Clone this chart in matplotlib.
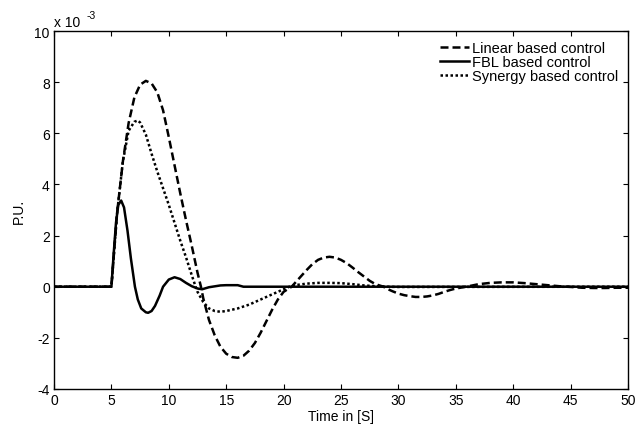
import matplotlib
matplotlib.use("Agg")
import matplotlib.pyplot as plt

plt.rcParams['font.family'] = ['Liberation Sans', 'DejaVu Sans']
plt.rcParams['axes.unicode_minus'] = False

# values in units of 1e-3 P.U.
t_lin = [0, 5.0, 5.5, 6.0, 6.5, 7.0, 7.5, 8.0, 8.5, 9.0, 9.5, 10.0, 10.5, 11.0, 11.5, 12.0,
         12.5, 12.8, 13.0, 13.5, 14.0, 14.5, 15.0, 15.5, 16.0, 16.5, 17.0, 17.5, 18.0, 18.5,
         19.0, 19.5, 20.0, 20.7, 21.0, 21.5, 22.0, 22.5, 23.0, 23.5, 24.0, 24.5, 25.0, 25.5,
         26.0, 26.5, 27.0, 27.5, 28.0, 28.7, 29.0, 29.5, 30.0, 30.5, 31.0, 31.5, 32.0, 32.5,
         33.0, 33.5, 34.0, 34.5, 35.0, 35.9, 37.0, 38.0, 39.0, 40.0, 41.0, 42.0, 43.0, 44.0,
         44.7, 46.0, 47.0, 48.0, 49.0, 50.0]
y_lin = [0, 0, 2.9, 4.9, 6.4, 7.4, 7.9, 8.05, 7.95, 7.6, 6.9, 5.85, 4.75, 3.65, 2.6, 1.6,
         0.55, 0.0, -0.45, -1.3, -1.9, -2.35, -2.62, -2.75, -2.78, -2.7, -2.5, -2.2, -1.8, -1.35,
         -0.9, -0.5, -0.2, 0.0, 0.15, 0.4, 0.65, 0.88, 1.05, 1.14, 1.17, 1.14, 1.05, 0.92,
         0.75, 0.57, 0.4, 0.23, 0.1, 0.0, -0.08, -0.18, -0.27, -0.33, -0.37, -0.4, -0.4, -0.38,
         -0.34, -0.28, -0.2, -0.13, -0.07, 0.0, 0.1, 0.15, 0.17, 0.17, 0.14, 0.1, 0.06, 0.02,
         0.0, -0.04, -0.05, -0.05, -0.04, -0.04]

t_fbl = [0, 5.0, 5.2, 5.4, 5.6, 5.85, 6.1, 6.4, 6.7, 7.05, 7.3, 7.6, 8.0, 8.2, 8.5, 8.8,
         9.2, 9.5, 10.0, 10.5, 11.0, 11.5, 12.0, 12.5, 12.9, 13.5, 14.5, 15.0, 16.0, 16.5, 50.0]
y_fbl = [0, 0, 1.3, 2.5, 3.2, 3.37, 3.1, 2.2, 1.1, 0.0, -0.5, -0.85, -1.0, -1.02, -0.95, -0.75,
         -0.35, 0.0, 0.28, 0.37, 0.3, 0.15, 0.02, -0.07, -0.1, -0.02, 0.05, 0.06, 0.06, 0.0, 0.0]

t_syn = [0, 5.0, 5.5, 6.0, 6.5, 7.0, 7.3, 7.5, 8.0, 8.5, 9.0, 9.5, 10.0, 10.5, 11.0, 11.5,
         12.0, 12.3, 12.5, 13.0, 13.5, 14.0, 14.5, 15.0, 16.0, 17.0, 18.0, 19.0, 20.0, 20.5,
         21.0, 22.0, 23.0, 24.0, 25.0, 26.0, 27.0, 28.0, 29.0, 30.0, 50.0]
y_syn = [0, 0, 2.9, 4.9, 6.1, 6.45, 6.5, 6.42, 5.95, 5.2, 4.5, 3.85, 3.2, 2.5, 1.8, 1.15,
         0.45, 0.05, -0.2, -0.6, -0.85, -0.95, -0.98, -0.95, -0.85, -0.7, -0.5, -0.3, -0.1, 0.0,
         0.06, 0.12, 0.15, 0.15, 0.14, 0.1, 0.05, 0.02, 0.0, -0.01, 0.0]

labels = ['Linear based control', 'FBL based control', 'Synergy based control']
xticks = [0, 5, 10, 15, 20, 25, 30, 35, 40, 45, 50]
yticks = [-4, -2, 0, 2, 4, 6, 8, 10]

fig = plt.figure(figsize=(6.44, 4.27), dpi=100)
ax = fig.add_axes([54/644, 37/427, (628-54)/644, (390-32)/427])

lw = 1.8
ax.plot(t_lin, y_lin, color='black', lw=lw, linestyle=(0, (3.2, 1.6)), label=labels[0])
ax.plot(t_fbl, y_fbl, color='black', lw=lw, linestyle='-', label=labels[1])
ax.plot(t_syn, y_syn, color='black', lw=lw, linestyle=(0, (1, 1)), label=labels[2])

ax.set_xlim(0, 50)
ax.set_ylim(-4, 10)
ax.set_xticks(xticks)
ax.set_yticks(yticks)
ax.tick_params(direction='in', top=True, right=True, labelsize=10, length=3.8, pad=3)
for s in ax.spines.values():
    s.set_linewidth(1.0)

ax.set_xlabel('Time in [S]', fontsize=10, labelpad=1)
ax.set_ylabel('P.U.', fontsize=10, labelpad=6)
ax.text(0.0, 1.005, 'x 10', transform=ax.transAxes, fontsize=10,
        ha='left', va='bottom')
ax.text(0.057, 1.03, '-3', transform=ax.transAxes, fontsize=7.5,
        ha='left', va='bottom')

leg = ax.legend(loc='upper right', frameon=False, fontsize=10.5, handlelength=2.0,
                labelspacing=0.0, handletextpad=0.15, borderaxespad=0.3, borderpad=0.4)

fig.savefig('out.png', dpi=100)
